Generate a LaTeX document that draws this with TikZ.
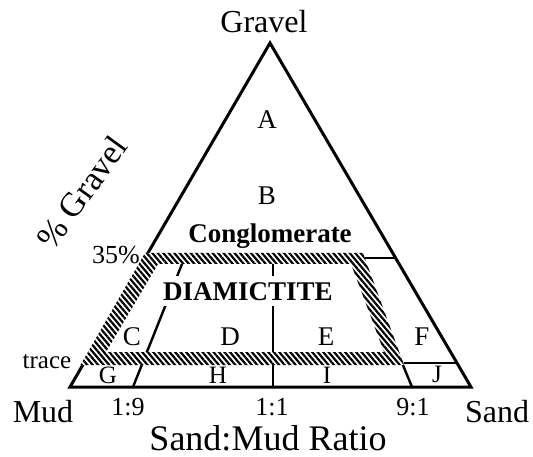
\documentclass[tikz,border=0pt]{standalone}
\usepackage{fontspec}
\setmainfont{Liberation Serif}
\usetikzlibrary{calc,patterns.meta}
\begin{document}
\begin{tikzpicture}[x=1pt,y=-1pt,
  edge/.style={line width=3pt,line join=miter,line cap=round},
  divline/.style={line width=2.4pt},
  thinline/.style={line width=2pt},
  hatchband/.style={even odd rule,preaction={fill=white,even odd rule},
     pattern={Lines[angle=-50,distance=4.2pt,line width=2.2pt]}},
  lbl/.style={anchor=base,inner sep=0pt},
  big/.style={font=\fontsize{32}{36}\selectfont},
  huge/.style={font=\fontsize{36}{42}\selectfont},
  mid/.style={font=\fontsize{25}{28}\selectfont},
  zone/.style={font=\fontsize{27}{30}\selectfont},
  rock/.style={font=\bfseries\fontsize{27}{30}\selectfont}]
\useasboundingbox (0,0) rectangle (533,457);
% vertices
\coordinate (apex) at (270,43);
\coordinate (L) at (70,387);
\coordinate (R) at (471,387);
% base ratio points
\coordinate (B19) at (133,387);
\coordinate (B11) at (273,387);
\coordinate (B91) at (412,387);
% ray tops at 35% band
\coordinate (r1top) at ($(apex)!0.6105!(B19)$);
\coordinate (r2top) at ($(apex)!0.6105!(B91)$);
\coordinate (m11top) at (273,253);
% thin lines
\coordinate (c35a) at (363,258);
\coordinate (c35b) at (396,258);
\coordinate (ctra) at (404,363);
\coordinate (ctrb) at (457.5,363);
% band corners
\coordinate (oTL) at (145,253);
\coordinate (oTR) at (363,253);
\coordinate (oBR) at (404,365);
\coordinate (oBL) at (80.5,365);
\coordinate (iTL) at (158,264);
\coordinate (iTR) at (351,264);
\coordinate (iBR) at (384,352);
\coordinate (iBL) at (106,352);
% triangle
\draw[edge] (apex) -- (R) -- (L) -- cycle;
% dividing lines
\draw[divline] (r1top) -- (B19);
\draw[divline] (m11top) -- (B11);
\draw[divline] (r2top) -- (B91);
\draw[thinline] (c35a) -- (c35b);
\draw[thinline] (ctra) -- (ctrb);
% hatched diamictite band
\path[hatchband] (oTL) -- (oTR) -- (oBR) -- (oBL) -- cycle
                 (iTL) -- (iTR) -- (iBR) -- (iBL) -- cycle;
% labels
\node[lbl,big] (tGravel) at (264,33) {Gravel};
\node[rotate=54,font=\fontsize{34}{38}\selectfont] (tPG) at (82,192) {\% Gravel};
\node[lbl,zone] (tA) at (267,129) {A};
\node[lbl,zone] (tB) at (267,205) {B};
\node[lbl,rock] (tCong) at (270,243) {Conglomerate};
\node[anchor=base,rock,fill=white,inner xsep=4pt,inner ysep=6pt] (tDiam) at (248,300) {DIAMICTITE};
\node[lbl,font=\fontsize{26}{30}\selectfont] (t35) at (116,264) {35\%};
\node[lbl,mid] (ttrace) at (47,368) {trace};
\node[lbl,zone] (tC) at (132,345) {C};
\node[lbl,zone] (tD) at (230,345) {D};
\node[lbl,zone] (tE) at (326,345) {E};
\node[lbl,zone] (tF) at (422,345) {F};
\node[lbl,mid] (tG) at (108,383) {G};
\node[lbl,mid] (tH) at (218,383) {H};
\node[lbl,mid] (tI) at (327,383) {I};
\node[lbl,mid] (tJ) at (437,382) {J};
\node[lbl,big] (tMud) at (43,422) {Mud};
\node[lbl,big] (tSand) at (497,422) {Sand};
\node[lbl,font=\fontsize{26}{30}\selectfont] (t19) at (128,415) {1:9};
\node[lbl,font=\fontsize{26}{30}\selectfont] (t11) at (272,415) {1:1};
\node[lbl,font=\fontsize{26}{30}\selectfont] (t91) at (413,415) {9:1};
\node[lbl,huge] (tRatio) at (268,450) {Sand:Mud Ratio};
\end{tikzpicture}
\end{document}
